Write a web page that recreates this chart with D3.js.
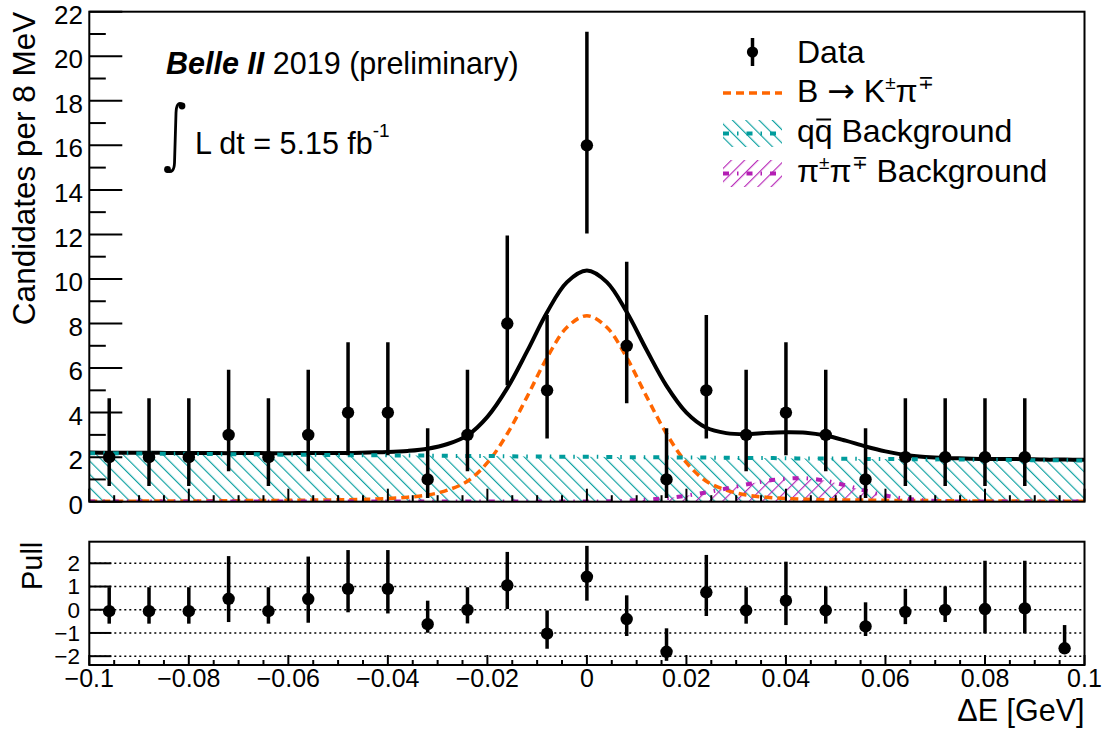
<!DOCTYPE html>
<html>
<head>
<meta charset="utf-8">
<script src="https://cdn.jsdelivr.net/npm/d3@7"></script>
<style>
  html, body { margin: 0; padding: 0; background: #fff; }
  svg { display: block; }
  text { font-family: "Liberation Sans", Arial, Helvetica, sans-serif; fill: #000; }
</style>
</head>
<body>
<svg id="chart" width="1106" height="729"></svg>
<script>
// ---- binned data: Delta E bin centres (GeV), event counts, Poisson error bounds ----
const binCenters = [-0.096, -0.088, -0.080, -0.072, -0.064, -0.056, -0.048, -0.040, -0.032, -0.024, -0.016, -0.008,
                     0.000, 0.008, 0.016, 0.024, 0.032, 0.040, 0.048, 0.056, 0.064, 0.072, 0.080, 0.088, 0.096];
const counts     = [2, 2, 2, 3, 2, 3, 4, 4, 1, 3, 8, 5, 16, 7, 1, 5, 3, 4, 3, 1, 2, 2, 2, 2, 0];
const errLow     = [1.29, 1.29, 1.29, 1.63, 1.29, 1.63, 1.91, 1.91, 0.83, 1.63, 2.77, 2.16, 3.96, 2.58, 0.83, 2.16, 1.63, 1.91, 1.63, 0.83, 1.29, 1.29, 1.29, 1.29, 0];
const errHigh    = [2.64, 2.64, 2.64, 2.92, 2.64, 2.92, 3.16, 3.16, 2.30, 2.92, 3.95, 3.38, 5.10, 3.77, 2.30, 3.38, 2.92, 3.16, 2.92, 2.30, 2.64, 2.64, 2.64, 2.64, 1.84];

// ---- pulls per bin with their error bar bounds ----
const pull     = [-0.06, -0.06, -0.06, 0.47, -0.06, 0.46, 0.90, 0.90, -0.62, -0.01, 1.05, -1.03, 1.42, -0.40, -1.81, 0.75, -0.03, 0.39, -0.03, -0.72, -0.09, -0.01, 0.03, 0.06, -1.66];
const pullHigh = [0.97, 0.97, 0.97, 2.31, 0.97, 2.29, 2.57, 2.57, 0.39, 0.97, 2.49, -0.03, 2.75, 0.62, -0.80, 2.36, 0.97, 2.07, 1.00, 0.32, 0.90, 1.00, 2.11, 2.11, -0.66];
const pullLow  = [-0.60, -0.60, -0.60, -0.53, -0.60, -0.56, -0.11, -0.16, -0.99, -0.59, 0.03, -1.68, 0.39, -1.13, -2.20, -0.27, -0.60, -0.66, -0.60, -1.13, -0.62, -0.53, -1.02, -1.02, -1.90];

// ---- fit components sampled every 4 MeV from -0.1 to 0.1 GeV ----
const curveX = d3.range(51).map(i => +(-0.1 + 0.004 * i).toFixed(3));
const signalPdf = [0.02, 0.02, 0.02, 0.03, 0.03, 0.03, 0.04, 0.04, 0.05, 0.05, 0.06, 0.07, 0.08, 0.09, 0.11, 0.14, 0.20, 0.30, 0.52, 0.92, 1.75, 3.05, 4.72, 6.47, 7.83,
                   8.35,
                   7.83, 6.47, 4.72, 3.05, 1.75, 0.92, 0.52, 0.30, 0.20, 0.14, 0.11, 0.09, 0.08, 0.07, 0.06, 0.05, 0.05, 0.04, 0.04, 0.03, 0.03, 0.03, 0.02, 0.02, 0.02];
const qqPdf = [2.18, 2.17, 2.17, 2.16, 2.15, 2.15, 2.14, 2.13, 2.13, 2.12, 2.11, 2.11, 2.10, 2.09, 2.09, 2.08, 2.07, 2.07, 2.06, 2.05, 2.05, 2.04, 2.03, 2.03, 2.02,
               2.02,
               2.01, 2.00, 2.00, 1.99, 1.98, 1.98, 1.97, 1.96, 1.96, 1.95, 1.94, 1.94, 1.93, 1.92, 1.92, 1.91, 1.90, 1.90, 1.89, 1.88, 1.88, 1.87, 1.86, 1.86, 1.85];
const pipiPdf = [0.01, 0.01, 0.01, 0.01, 0.01, 0.01, 0.01, 0.01, 0.01, 0.01, 0.01, 0.01, 0.01, 0.01, 0.01, 0.01, 0.01, 0.01, 0.01, 0.01, 0.01, 0.01, 0.01, 0.01, 0.01,
                 0.01,
                 0.02, 0.045, 0.09, 0.16, 0.27, 0.42, 0.59, 0.77, 0.93, 1.03, 1.05, 0.94, 0.73, 0.49, 0.28, 0.14, 0.06, 0.02, 0.01, 0.01, 0.01, 0.01, 0.01, 0.01, 0.01];

// ---- axis ticks ----
const xTicks = [-0.1, -0.08, -0.06, -0.04, -0.02, 0, 0.02, 0.04, 0.06, 0.08, 0.1];
const xTickLabels = ["\u22120.1", "\u22120.08", "\u22120.06", "\u22120.04", "\u22120.02", "0", "0.02", "0.04", "0.06", "0.08", "0.1"];
const yTicks = [0, 2, 4, 6, 8, 10, 12, 14, 16, 18, 20, 22];
const pullTicks = [-2, -1, 0, 1, 2];
const pullTickLabels = ["\u22122", "\u22121", "0", "1", "2"];

// ---- colours ----
const colSignal = "#ff6600";
const colQQ = "#009c9c";
const colPiPi = "#b41eb4";

const svg = d3.select("#chart");
const frame = { left: 89.3, right: 1084.5 };
const mainBox = { top: 11.7, bottom: 501.7 };
const pullBox = { top: 541.7, bottom: 665 };

const x = d3.scaleLinear().domain([-0.1, 0.1]).range([frame.left, frame.right]);
const y = d3.scaleLinear().domain([0, 22]).range([mainBox.bottom, mainBox.top]);
const yp = d3.scaleLinear().domain([-2.38, 2.93]).range([pullBox.bottom, pullBox.top]);

// hatch patterns
const defs = svg.append("defs");
function hatch(id, color, angle) {
  const p = defs.append("pattern").attr("id", id).attr("patternUnits", "userSpaceOnUse")
    .attr("width", 9.4).attr("height", 9.4).attr("patternTransform", `rotate(${angle})`);
  p.append("line").attr("x1", 0.6).attr("y1", -1).attr("x2", 0.6).attr("y2", 11)
    .attr("stroke", color).attr("stroke-width", 1.1);
}
hatch("hatchQQ", colQQ, -45);
hatch("hatchPiPi", colPiPi, 45);

defs.append("clipPath").attr("id", "clipMain").append("rect")
  .attr("x", frame.left).attr("y", mainBox.top)
  .attr("width", frame.right - frame.left).attr("height", mainBox.bottom - mainBox.top);

const plot = svg.append("g").attr("clip-path", "url(#clipMain)");

const pts = (vals) => curveX.map((cx, i) => [cx, vals[i]]);
const totalPdf = curveX.map((_, i) => signalPdf[i] + qqPdf[i] + pipiPdf[i]);

const area = d3.area().x(d => x(d[0])).y0(y(0)).y1(d => y(d[1])).curve(d3.curveCatmullRom);
const line = d3.line().x(d => x(d[0])).y(d => y(d[1])).curve(d3.curveCatmullRom);

// filled backgrounds
plot.append("path").attr("d", area(pts(qqPdf))).attr("fill", "url(#hatchQQ)");
plot.append("path").attr("d", area(pts(pipiPdf))).attr("fill", "url(#hatchPiPi)");

// full fit
plot.append("path").attr("d", line(pts(totalPdf))).attr("fill", "none")
  .attr("stroke", "#000").attr("stroke-width", 4);
// signal component
plot.append("path").attr("d", line(pts(signalPdf))).attr("fill", "none")
  .attr("stroke", colSignal).attr("stroke-width", 3.5).attr("stroke-dasharray", "8,5");
// background component lines
const dashDot = "6,8,1.5,8";
plot.append("path").attr("d", line(pts(qqPdf))).attr("fill", "none")
  .attr("stroke", colQQ).attr("stroke-width", 4).attr("stroke-dasharray", dashDot);
plot.append("path").attr("d", line(pts(pipiPdf))).attr("fill", "none")
  .attr("stroke", colPiPi).attr("stroke-width", 4).attr("stroke-dasharray", dashDot);

// data points (empty bins are not drawn)
const bins = binCenters.map((c, i) => ({ c, n: counts[i], lo: counts[i] - errLow[i], hi: counts[i] + errHigh[i] }))
  .filter(d => d.n > 0);
const dataG = plot.append("g");
dataG.selectAll("line").data(bins).join("line")
  .attr("x1", d => x(d.c)).attr("x2", d => x(d.c))
  .attr("y1", d => y(d.lo)).attr("y2", d => y(d.hi))
  .attr("stroke", "#000").attr("stroke-width", 3.5);
dataG.selectAll("circle").data(bins).join("circle")
  .attr("cx", d => x(d.c)).attr("cy", d => y(d.n)).attr("r", 6.2);

// main frame and ticks
const axG = svg.append("g").attr("stroke", "#000").attr("stroke-width", 2).attr("fill", "none");
axG.append("rect").attr("x", frame.left).attr("y", mainBox.top)
  .attr("width", frame.right - frame.left).attr("height", mainBox.bottom - mainBox.top);
d3.range(0, 23, 1).forEach(v => {
  const len = v % 2 === 0 ? 33 : 16.5;
  axG.append("line").attr("x1", frame.left).attr("x2", frame.left + len).attr("y1", y(v)).attr("y2", y(v));
});
d3.range(-0.1, 0.1001, 0.005).forEach(v => {
  const major = Math.abs(Math.round(v / 0.02) * 0.02 - v) < 1e-6;
  const len = major ? 13 : 6.5;
  axG.append("line").attr("x1", x(v)).attr("x2", x(v)).attr("y1", mainBox.bottom).attr("y2", mainBox.bottom - len);
});

svg.append("g").selectAll("text").data(yTicks).join("text")
  .attr("x", 83).attr("y", d => y(d) + 3).attr("dy", "0.35em")
  .attr("text-anchor", "end").attr("font-size", 26).text(d => d);

svg.append("text").attr("transform", `translate(35,${mainBox.top}) rotate(-90)`)
  .attr("text-anchor", "end").attr("font-size", 31.5).text("Candidates per 8 MeV");

// ---- pull panel ----
const pullG = svg.append("g");
pullG.selectAll("line.grid").data(pullTicks).join("line").attr("class", "grid")
  .attr("x1", frame.left).attr("x2", frame.right).attr("y1", d => yp(d)).attr("y2", d => yp(d))
  .attr("stroke", "#000").attr("stroke-width", 1.4).attr("stroke-dasharray", "2,3");

const pulls = binCenters.map((c, i) => ({ c, p: pull[i], lo: pullLow[i], hi: pullHigh[i] }));
pullG.selectAll("line.err").data(pulls).join("line").attr("class", "err")
  .attr("x1", d => x(d.c)).attr("x2", d => x(d.c)).attr("y1", d => yp(d.lo)).attr("y2", d => yp(d.hi))
  .attr("stroke", "#000").attr("stroke-width", 3.5);
pullG.selectAll("circle").data(pulls).join("circle")
  .attr("cx", d => x(d.c)).attr("cy", d => yp(d.p)).attr("r", 6.2);

const pAx = svg.append("g").attr("stroke", "#000").attr("stroke-width", 2).attr("fill", "none");
pAx.append("rect").attr("x", frame.left).attr("y", pullBox.top)
  .attr("width", frame.right - frame.left).attr("height", pullBox.bottom - pullBox.top);
pullTicks.forEach(v => {
  pAx.append("line").attr("x1", frame.left).attr("x2", frame.left + 22).attr("y1", yp(v)).attr("y2", yp(v));
});
d3.range(-0.1, 0.1001, 0.005).forEach(v => {
  const major = Math.abs(Math.round(v / 0.02) * 0.02 - v) < 1e-6;
  const len = major ? 10 : 5;
  pAx.append("line").attr("x1", x(v)).attr("x2", x(v)).attr("y1", pullBox.bottom).attr("y2", pullBox.bottom - len);
});

svg.append("g").selectAll("text").data(pullTicks).join("text")
  .attr("x", 80).attr("y", d => yp(d)).attr("dy", "0.35em")
  .attr("text-anchor", "end").attr("font-size", 22.5).text((d, i) => pullTickLabels[i]);

svg.append("g").selectAll("text").data(xTicks).join("text")
  .attr("x", d => x(d)).attr("y", 687)
  .attr("text-anchor", "middle").attr("font-size", 25).text((d, i) => xTickLabels[i]);

svg.append("text").attr("transform", `translate(42,${pullBox.top}) rotate(-90)`)
  .attr("text-anchor", "end").attr("font-size", 29).text("Pull");

svg.append("text").attr("x", frame.right).attr("y", 721)
  .attr("text-anchor", "end").attr("font-size", 30.5).text("\u0394E [GeV]");

// ---- annotations ----
const belle = svg.append("text").attr("x", 166).attr("y", 74).attr("font-size", 30.5);
belle.append("tspan").attr("font-weight", "bold").attr("font-style", "italic").text("Belle II");
belle.append("tspan").text(" 2019 (preliminary)");

// integral sign
svg.append("path").attr("d", "M182,104 Q176.5,101 176,113 L174.5,163 Q174,174 167,171")
  .attr("fill", "none").attr("stroke", "#000").attr("stroke-width", 2.8);
svg.append("circle").attr("cx", 182).attr("cy", 106).attr("r", 3.4);
svg.append("circle").attr("cx", 167.5).attr("cy", 169.5).attr("r", 3.4);

const lumi = svg.append("text").attr("x", 195).attr("y", 154).attr("font-size", 30.5);
lumi.append("tspan").text("L dt = 5.15 fb");
lumi.append("tspan").attr("font-size", 19).attr("dy", -17).text("-1");

// ---- legend ----
const lg = svg.append("g");
const lx0 = 723, lx1 = 782, tx = 797, lfs = 32, sfs = 19;
// Data
lg.append("line").attr("x1", 752.5).attr("x2", 752.5).attr("y1", 38).attr("y2", 66)
  .attr("stroke", "#000").attr("stroke-width", 3.5);
lg.append("circle").attr("cx", 752.5).attr("cy", 52).attr("r", 5.6);
lg.append("text").attr("x", tx).attr("y", 63).attr("font-size", lfs).text("Data");
// signal
lg.append("line").attr("x1", lx0).attr("x2", lx1).attr("y1", 93).attr("y2", 93)
  .attr("stroke", colSignal).attr("stroke-width", 3.5).attr("stroke-dasharray", "8,5");
const sigT = lg.append("text").attr("x", tx).attr("y", 102).attr("font-size", lfs);
sigT.append("tspan").text("B ");
sigT.append("tspan").attr("font-family", "DejaVu Sans").attr("font-size", 33).text("\u2192");
sigT.append("tspan").text(" K");
sigT.append("tspan").attr("font-size", sfs).attr("dy", -13).text("\u00b1");
sigT.append("tspan").attr("dy", 13).text("\u03c0");
sigT.append("tspan").attr("font-size", sfs).attr("dy", -13).text("\u2213");
// qq background
lg.append("rect").attr("x", lx0).attr("y", 120).attr("width", lx1 - lx0).attr("height", 27).attr("fill", "url(#hatchQQ)");
lg.append("line").attr("x1", lx0).attr("x2", lx1).attr("y1", 133.5).attr("y2", 133.5)
  .attr("stroke", colQQ).attr("stroke-width", 4).attr("stroke-dasharray", dashDot);
const qqT = lg.append("text").attr("x", tx).attr("y", 142).attr("font-size", lfs);
qqT.append("tspan").text("qq Background");
{
  const ext = qqT.node().getExtentOfChar(1);
  lg.append("line").attr("x1", ext.x + 1.5).attr("x2", ext.x + ext.width - 1.5)
    .attr("y1", 119.5).attr("y2", 119.5).attr("stroke", "#000").attr("stroke-width", 2);
}
// pi pi background
lg.append("rect").attr("x", lx0).attr("y", 160).attr("width", lx1 - lx0).attr("height", 27).attr("fill", "url(#hatchPiPi)");
lg.append("line").attr("x1", lx0).attr("x2", lx1).attr("y1", 173.5).attr("y2", 173.5)
  .attr("stroke", colPiPi).attr("stroke-width", 4).attr("stroke-dasharray", dashDot);
const ppT = lg.append("text").attr("x", tx).attr("y", 182).attr("font-size", lfs);
ppT.append("tspan").text("\u03c0");
ppT.append("tspan").attr("font-size", sfs).attr("dy", -13).text("\u00b1");
ppT.append("tspan").attr("dy", 13).text("\u03c0");
ppT.append("tspan").attr("font-size", sfs).attr("dy", -13).text("\u2213");
ppT.append("tspan").attr("dy", 13).text(" Background");
</script>
</body>
</html>
